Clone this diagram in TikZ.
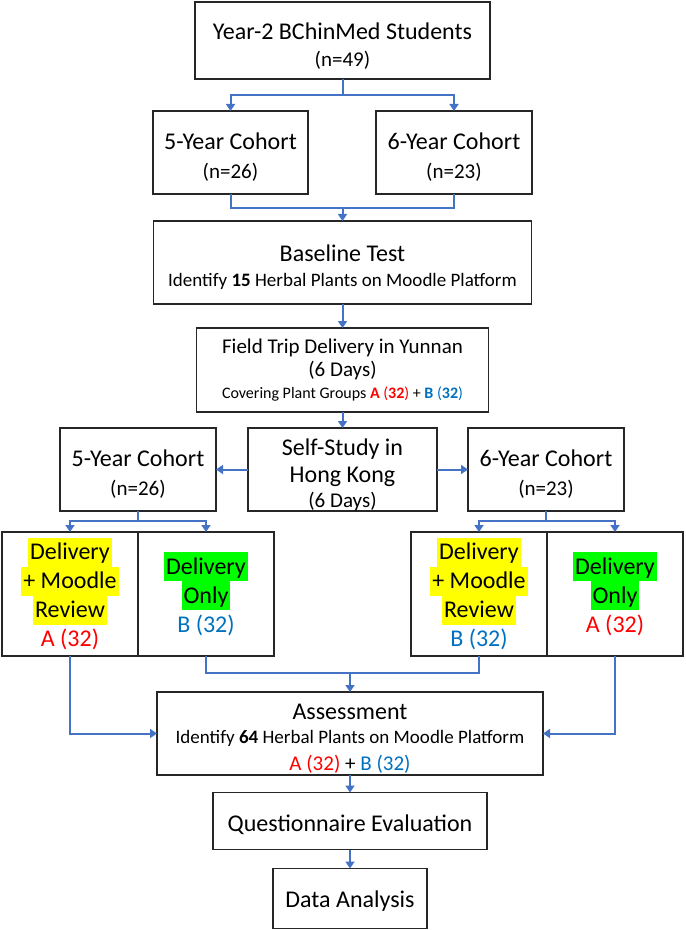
\documentclass[tikz,border=0pt]{standalone}
\usepackage{fontspec}
\setmainfont{Carlito}
\usepackage{xcolor}
\usepackage{tikz}
\usetikzlibrary{positioning,calc,arrows.meta}

\definecolor{linkblue}{HTML}{4472C4}
\definecolor{grpA}{HTML}{FF0000}
\definecolor{grpB}{HTML}{0070C0}
\definecolor{hlyellow}{HTML}{FFFF00}
\definecolor{hlgreen}{HTML}{00FF00}

\newcommand{\bigf}{\fontsize{12}{14.5}\selectfont}
\newcommand{\midf}{\fontsize{10.5}{13}\selectfont}
\newcommand{\smallf}{\fontsize{9.5}{12}\selectfont}
\newcommand{\tinyf}{\fontsize{8}{10}\selectfont}
\newcommand{\boxtop}[1]{\rule{0pt}{#1}}
\newcommand{\hlmark}[2]{{\setlength{\fboxsep}{0pt}\colorbox{#1}{\rule[-3.6pt]{0pt}{14.5pt}\hspace{1pt}#2\hspace{1pt}}}}
\newcommand{\grA}[1]{\textcolor{grpA}{#1}}
\newcommand{\grB}[1]{\textcolor{grpB}{#1}}

\begin{document}
\begin{tikzpicture}[->, >={Triangle[width=4.5pt,length=3.5pt]}, x=0.5pt, y=-0.5pt, main/.style = {rectangle, draw=black!85, line width=0.8pt, inner sep=0pt, outer sep=0pt, align=center, font=\bigf}, link/.style={draw=linkblue, line width=1pt}, every edge/.append style={link}]

\useasboundingbox (0,0) rectangle (685,930);

\node[main, minimum width=147.5pt, minimum height=38.5pt] (1) at (342.5,40.5) {\boxtop{13.5pt}Year-2 BChinMed Students\\[-1pt]{\midf (n=49)}};
\node[main, minimum width=77.5pt, minimum height=41.5pt] (2) at (230.5,152.5) {\boxtop{12.5pt}5-Year Cohort\\{\midf (n=26)}};
\node[main, minimum width=78pt, minimum height=41.5pt] (3) at (454,152.5) {\boxtop{12.5pt}6-Year Cohort\\{\midf (n=23)}};
\node[main, minimum width=189pt, minimum height=41.5pt] (4) at (342.5,262.5) {\boxtop{13pt}Baseline Test\\[-2pt]{\smallf Identify \textbf{15} Herbal Plants on Moodle Platform}};
\node[main, minimum width=146pt, minimum height=42pt, font=\midf] (5) at (342.5,370) {Field Trip Delivery in Yunnan\\[-1.5pt](6 Days)\\[-2pt]{\tinyf Covering Plant Groups \grA{\textbf{A} (\textbf{32})} + \grB{\textbf{B} (\textbf{32})}}};
\node[main, minimum width=94.5pt, minimum height=41.5pt] (6) at (342.5,469.5) {\boxtop{13.5pt}Self-Study in\\[-1pt]Hong Kong\\[-2pt]{\midf (6 Days)}};
\node[main, minimum width=78pt, minimum height=41.5pt] (7) at (138,469.5) {\boxtop{12.5pt}5-Year Cohort\\{\midf (n=26)}};
\node[main, minimum width=78pt, minimum height=41.5pt] (8) at (546,469.5) {\boxtop{12.5pt}6-Year Cohort\\{\midf (n=23)}};

% study arms
\node[main, minimum width=68pt, minimum height=62pt] (9) at (70,594) {\hlmark{hlyellow}{Delivery}\\\hlmark{hlyellow}{+ Moodle}\\\hlmark{hlyellow}{Review}\\\grA{A (32)}};
\node[main, minimum width=68pt, minimum height=62pt] (10) [right=0pt of 9] {\hlmark{hlgreen}{Delivery}\\\hlmark{hlgreen}{Only}\\\grB{B (32)}};
\node[main, minimum width=68pt, minimum height=62pt] (11) at (479,594) {\hlmark{hlyellow}{Delivery}\\\hlmark{hlyellow}{+ Moodle}\\\hlmark{hlyellow}{Review}\\\grB{B (32)}};
\node[main, minimum width=68pt, minimum height=62pt] (12) [right=0pt of 11] {\hlmark{hlgreen}{Delivery}\\\hlmark{hlgreen}{Only}\\\grA{A (32)}};

\node[main, minimum width=193pt, minimum height=41.5pt] (13) at (350,733.5) {\boxtop{13pt}Assessment\\[-2.5pt]{\smallf Identify \textbf{64} Herbal Plants on Moodle Platform}\\[-1pt]{\midf \grA{A (32)} + \grB{B (32)}}};
\node[main, minimum width=137pt, minimum height=28.5pt] (14) at (350,821) {\boxtop{11.6pt}Questionnaire Evaluation};
\node[main, minimum width=77pt, minimum height=30pt] (15) at (350,898.5) {\boxtop{10.6pt}Data Analysis};

\coordinate (j1) at (342.5,95);
\coordinate (j2) at (342.5,208);
\coordinate (j3) at (138,521);
\coordinate (j4) at (546,521);
\coordinate (j5) at (350,673);

\draw[link] (1) -- (j1) -| (2);
\draw[link] (j1) -| (3);
\draw[link, -] (2) |- (j2) -| (3);
\draw[link] (j2) -- (4);
\draw[link] (7) -- (j3) -| (9);
\draw[link] (j3) -| (10);
\draw[link] (8) -- (j4) -| (11);
\draw[link] (j4) -| (12);
\draw[link, -] (10) |- (j5) -| (11);
\draw[link] (j5) -- (13);
\draw[link] (9) |- (13);
\draw[link] (12) |- (13);

\path 
    (4) edge (5)
    (5) edge (6)
    (6) edge (7)
    (6) edge (8)
    (13) edge (14)
    (14) edge (15);
\end{tikzpicture}
\end{document}
